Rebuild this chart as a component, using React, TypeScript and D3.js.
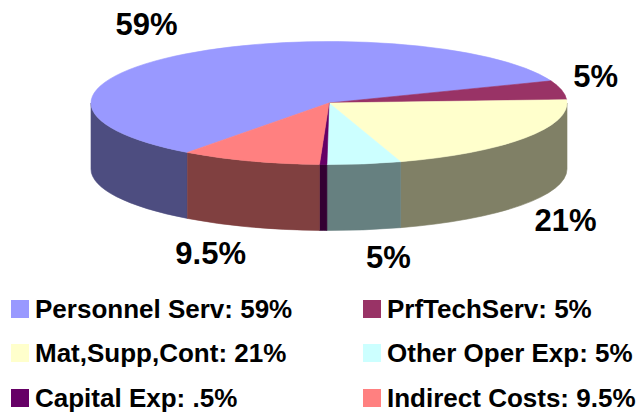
import React from "react";
import * as d3 from "d3";

const names = ["Personnel Serv", "PrfTechServ", "Mat,Supp,Cont", "Other Oper Exp", "Capital Exp", "Indirect Costs"];
const values = [59, 5, 21, 5, 0.5, 9.5];
const valueLabels = ["59%", "5%", "21%", "5%", ".5%", "9.5%"];
const colors = ["#9999FF", "#993366", "#FFFFCC", "#CCFFFF", "#660066", "#FF8080"];

const W = 643, H = 415;
const cx = 329, cy = 103, rx = 238, ry = 61.5, depth = 66;
const startDeg = 126.5; // measured clockwise from 3 o'clock
const FONT = "'Liberation Sans', Arial, Helvetica, sans-serif";

function pt(t: number, dy = 0): [number, number] {
  return [cx + rx * Math.cos(t), cy + ry * Math.sin(t) + dy];
}

function topPath(t0: number, t1: number) {
  const [x0, y0] = pt(t0);
  const [x1, y1] = pt(t1);
  const large = t1 - t0 > Math.PI ? 1 : 0;
  return `M${cx},${cy}L${x0},${y0}A${rx},${ry} 0 ${large} 1 ${x1},${y1}Z`;
}

function sidePaths(t0: number, t1: number) {
  const out: string[] = [];
  for (const base of [0, 2 * Math.PI, -2 * Math.PI]) {
    const a = Math.max(t0, base);
    const b = Math.min(t1, base + Math.PI);
    if (b - a > 1e-4) {
      const [x0, y0] = pt(a);
      const [x1, y1] = pt(b);
      out.push(
        `M${x0},${y0}A${rx},${ry} 0 0 1 ${x1},${y1}L${x1},${y1 + depth}A${rx},${ry} 0 0 0 ${x0},${y0 + depth}Z`
      );
    }
  }
  return out;
}

function half(c: string) {
  const r = d3.rgb(c);
  return d3.rgb(r.r * 0.5, r.g * 0.5, r.b * 0.5).formatHex();
}

export default function App() {
  const s = ((startDeg + 90) * Math.PI) / 180;
  const arcs = d3
    .pie<number>()
    .sort(null)
    .value((d) => d)
    .startAngle(s)
    .endAngle(s + 2 * Math.PI)(values);

  const slices = arcs.map((a, i) => ({
    i,
    t0: a.startAngle - Math.PI / 2,
    t1: a.endAngle - Math.PI / 2,
  }));

  const legendX = [11, 363];
  const legendBase = [318, 362, 407];

  return (
    <svg width={W} height={H} style={{ position: "absolute", left: 0, top: 0, background: "#fff" }}>
      <g>
        {slices.map((sl) =>
          sidePaths(sl.t0, sl.t1).map((p, k) => (
            <path key={`s${sl.i}-${k}`} d={p} fill={half(colors[sl.i])} stroke={half(colors[sl.i])} strokeWidth={0.6} />
          ))
        )}
        {slices.map((sl) => (
          <path key={`t${sl.i}`} d={topPath(sl.t0, sl.t1)} fill={colors[sl.i]} stroke={colors[sl.i]} strokeWidth={0.6} strokeLinejoin="round" />
        ))}
      </g>
      <g fontFamily={FONT} fontWeight="bold" fontSize={31} fill="#000">
        {slices
          .filter((sl) => values[sl.i] >= 1)
          .map((sl) => {
            const m = (sl.t0 + sl.t1) / 2;
            const c = Math.cos(m), sn = Math.sin(m);
            const x = cx + rx * c * 1.05;
            const y = cy + ry * sn * 1.45 + (sn > 0 ? depth : -8);
            return (
              <text key={`l${sl.i}`} x={x} y={y} dy="0.36em" textAnchor={c >= 0 ? "start" : "end"}>
                {valueLabels[sl.i]}
              </text>
            );
          })}
      </g>
      <g fontFamily={FONT} fontWeight="bold" fontSize={26} fill="#000">
        {names.map((n, i) => {
          const col = i % 2;
          const row = Math.floor(i / 2);
          const x = legendX[col];
          const b = legendBase[row];
          return (
            <g key={`lg${i}`}>
              <rect x={x} y={b - 18} width={18} height={18} fill={colors[i]} />
              <text x={x + 24} y={b}>{`${n}: ${valueLabels[i]}`}</text>
            </g>
          );
        })}
      </g>
    </svg>
  );
}
